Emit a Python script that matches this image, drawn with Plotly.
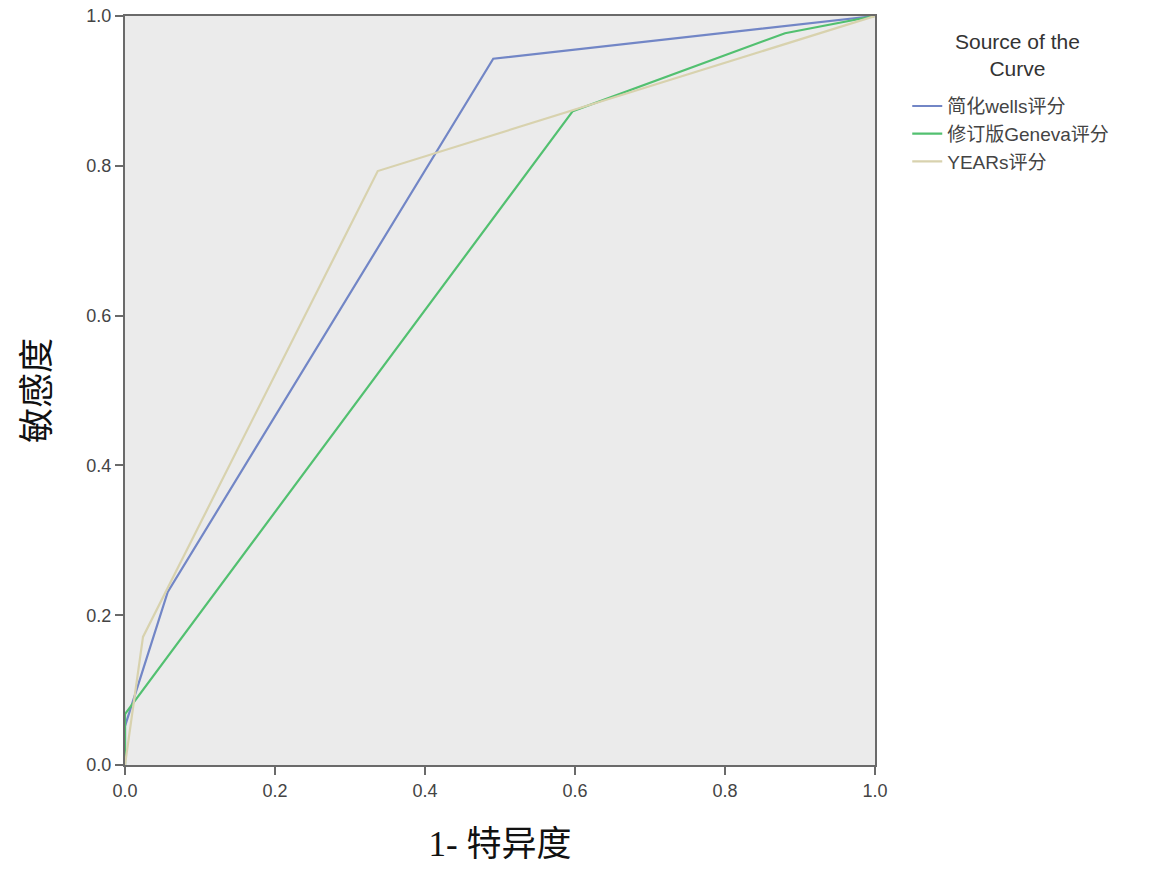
import plotly.graph_objects as go

# ROC curve data (1 - specificity, sensitivity)
wells_x = [0.0, 0.0, 0.057, 0.491, 1.0]
wells_y = [0.0, 0.052, 0.231, 0.943, 1.0]
geneva_x = [0.0, 0.0, 0.597, 0.88, 1.0]
geneva_y = [0.0, 0.068, 0.873, 0.977, 1.0]
years_x = [0.0, 0.024, 0.337, 0.597, 1.0]
years_y = [0.0, 0.171, 0.793, 0.874, 1.0]

names = ["简化wells评分", "修订版Geneva评分", "YEARs评分"]
colors = ["#7286c6", "#52c070", "#d8d2ae"]
ticks = [0.0, 0.2, 0.4, 0.6, 0.8, 1.0]

fig = go.Figure()
for xs, ys, nm, c in zip([wells_x, geneva_x, years_x], [wells_y, geneva_y, years_y], names, colors):
    fig.add_trace(go.Scatter(x=xs, y=ys, mode="lines", name=nm,
                             line=dict(color=c, width=2.2)))

axis_common = dict(
    range=[0, 1], tickvals=ticks, tickformat=".1f",
    showgrid=False, zeroline=False, automargin=False,
    ticklabeloverflow="allow",
    showline=True, linecolor="#6a6a6a", linewidth=2, mirror=True,
    ticks="outside", ticklen=8, tickwidth=2, tickcolor="#6a6a6a",
    tickfont=dict(family="Liberation Sans, Arial", size=18, color="#444444"),
)

title_font = dict(family="Liberation Serif, Noto Sans CJK SC", size=35, color="#111111")

fig.update_layout(
    width=1157, height=878,
    margin=dict(l=125, r=282, t=16, b=113, autoexpand=False),
    plot_bgcolor="#ebebeb", paper_bgcolor="white",
    xaxis=dict(**axis_common,
               title=dict(text="1- 特异度", standoff=32, font=title_font)),
    yaxis=dict(**axis_common,
               title=dict(text="敏感度", standoff=26, font=title_font)),
    legend=dict(
        x=1.043, y=0.905, xanchor="left", yanchor="top",
        font=dict(family="Liberation Sans, Noto Sans CJK SC", size=19, color="#444444"),
        bgcolor="rgba(0,0,0,0)", tracegroupgap=0, itemwidth=30,
    ),
    showlegend=True,
    annotations=[dict(
        text="Source of the<br>Curve", xref="paper", yref="paper",
        x=1.19, y=0.984, xanchor="center", yanchor="top", showarrow=False,
        align="center",
        font=dict(family="Liberation Sans, Arial", size=21, color="#333333"),
    )],
)

fig.write_html("out.html",
               config={"displayModeBar": False},
               post_script="document.body.style.margin='0';document.body.style.overflow='hidden';")
